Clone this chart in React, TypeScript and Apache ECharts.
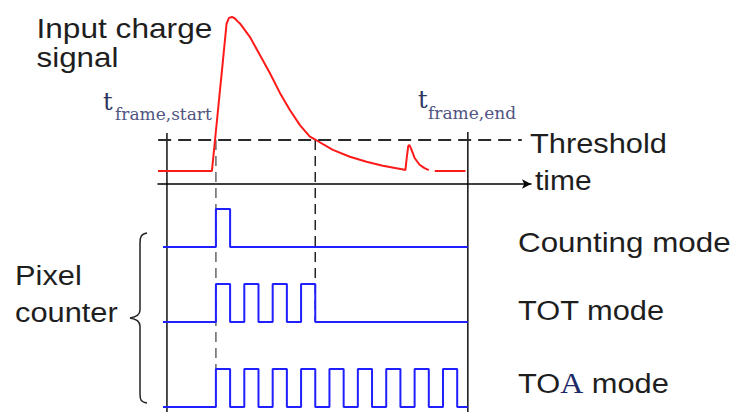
import React, { useEffect, useRef } from "react";
import * as echarts from "echarts";

// ---- time axis (units = half clock period), signal levels ----
const X_MIN = -4.08;
const X_MAX = 22.2;
const FRAME_START = -3.45;
const FRAME_END = 17.75;
const ROW_START = -3.73;
const THRESHOLD = 1;
const THRESHOLD_END = 21.55;
const TOT_END = 7;

// input charge signal: [time, amplitude] (threshold = 1)
const SIGNAL: [number, number][] = [
  [-4.08, 0], [-0.28, 0], [0.1, 1.75], [0.45, 3.35], [0.75, 4.75], [0.92, 4.94],
  [1.13, 4.97], [1.34, 4.92], [1.55, 4.82], [1.69, 4.76], [2.39, 4.33], [3.1, 3.74],
  [3.8, 3.16], [4.51, 2.52], [5.21, 1.97], [5.92, 1.48], [6.62, 1.11], [7.04, 1.0],
  [8.24, 0.68], [9.44, 0.46], [10.61, 0.3], [11.76, 0.17], [13.2, 0.05], [13.35, 0.03],
  [13.45, 0.45], [13.55, 0.8], [13.63, 0.84], [13.75, 0.72], [14.0, 0.42], [14.35, 0.2],
  [14.7, 0.09], [15.0, 0.03],
];
const SIGNAL_TAIL: [number, number][] = [[15.42, 0], [17.58, 0]];

// digital outputs: times of level changes (start low)
const COUNTING_EDGES = [0, 1];
const TOT_EDGES = [0, 1, 2, 3, 4, 5, 6, 7];
const TOA_EDGES = [0, 1, 2, 3, 4, 5, 6, 7, 8, 9, 10, 11, 12, 13, 14, 15, 16, 17];

const ROW_LABELS = ["Counting mode", "TOT mode"];

function steps(edges: number[]): [number, number][] {
  const pts: [number, number][] = [[ROW_START, 0]];
  let level = 0;
  for (const e of edges) {
    pts.push([e, level]);
    level = 1 - level;
    pts.push([e, level]);
  }
  pts.push([FRAME_END, level]);
  return pts;
}

const BRACE_D =
  "M147,233 C141,234 140,237 140,243 L140,310 C140,315 136,317 130,318 C136,319 140,321 140,326 L140,394 C140,400 141,402 147,403";
echarts.graphic.registerShape("brace", echarts.graphic.extendPath(BRACE_D, {}) as any);

const SANS = "Liberation Sans, Arial, sans-serif";
const SERIF = "DejaVu Serif, serif";
const INK = "#1e1e1e";
const RED = "#ff1a1a";
const BLUE = "#1f1fff";

export default function App() {
  const ref = useRef<HTMLDivElement>(null);
  useEffect(() => {
    if (!ref.current) return;
    const chart = echarts.init(ref.current, undefined, { renderer: "svg" });
    const gridTops = [
      { top: 12, height: 172 },
      { top: 209, height: 38 },
      { top: 284, height: 38 },
      { top: 369, height: 38 },
    ];
    const grid = gridTops.map((g) => ({ left: 158, width: 373, top: g.top, height: g.height }));
    const xAxis = grid.map((_, i) => ({
      type: "value",
      gridIndex: i,
      min: X_MIN,
      max: X_MAX,
      show: i === 0,
      axisLine: {
        show: i === 0,
        onZero: false,
        symbol: ["none", "arrow"],
        symbolSize: [7, 9],
        lineStyle: { color: "#000", width: 1.5 },
      },
      axisTick: { show: false },
      axisLabel: { show: false },
      splitLine: { show: false },
    }));
    const yAxis = grid.map((_, i) => ({
      type: "value",
      gridIndex: i,
      min: i === 0 ? -0.42 : 0,
      max: i === 0 ? 5.13 : 1,
      show: false,
      splitLine: { show: false },
    }));
    const digital = (idx: number, edges: number[], name: string) => ({
      type: "line",
      name,
      xAxisIndex: idx,
      yAxisIndex: idx,
      data: steps(edges),
      showSymbol: false,
      clip: false,
      silent: true,
      lineStyle: { color: BLUE, width: 2 },
      z: 3,
    });
    chart.setOption({
      animation: false,
      grid,
      xAxis,
      yAxis,
      series: [
        {
          type: "line",
          name: "Input charge signal",
          xAxisIndex: 0,
          yAxisIndex: 0,
          data: SIGNAL,
          showSymbol: false,
          clip: false,
          silent: true,
          lineStyle: { color: RED, width: 2 },
          z: 3,
          markLine: {
            silent: true,
            symbol: ["none", "none"],
            label: { show: false },
            lineStyle: { color: "#2a2a2a", width: 2, type: [13, 7] },
            data: [[{ coord: [X_MIN + 0.01, THRESHOLD] }, { coord: [THRESHOLD_END, THRESHOLD] }]],
          },
        },
        {
          type: "line",
          name: "tail",
          xAxisIndex: 0,
          yAxisIndex: 0,
          data: SIGNAL_TAIL,
          showSymbol: false,
          clip: false,
          silent: true,
          lineStyle: { color: RED, width: 2 },
          z: 3,
        },
        digital(1, COUNTING_EDGES, ROW_LABELS[0]),
        digital(2, TOT_EDGES, ROW_LABELS[1]),
        digital(3, TOA_EDGES, "TOA mode"),
      ],
    });

    const p = (g: number, x: number, y: number) =>
      chart.convertToPixel({ gridIndex: g } as any, [x, y]) as unknown as number[];
    const thrY = p(0, 0, THRESHOLD)[1];
    const xStart = p(0, FRAME_START, 0)[0];
    const xEnd = p(0, FRAME_END, 0)[0];
    const x0 = p(0, 0, 0)[0];
    const xTot = p(0, TOT_END, 0)[0];
    const toaHigh = p(3, 0, 1)[1];
    const totLow = p(2, TOT_END, 0)[1];

    const text = (t: string, x: number, y: number, size = 28, sx = 1.1) => ({
      type: "text",
      x,
      y,
      scaleX: sx,
      silent: true,
      style: {
        text: t,
        x: 0,
        y: 0,
        fontFamily: SANS,
        fontSize: size,
        fill: INK,
        align: "left",
        verticalAlign: "middle",
      },
    });
    const serif = (t: string, x: number, y: number, size: number, color: string) => ({
      type: "text",
      x,
      y,
      silent: true,
      style: {
        text: t,
        x: 0,
        y: 0,
        fontFamily: SERIF,
        fontSize: size,
        fill: color,
        align: "left",
        verticalAlign: "middle",
      },
    });

    chart.setOption({
      graphic: [
        {
          type: "line",
          silent: true,
          shape: { x1: xStart, y1: thrY - 7, x2: xStart, y2: 412 },
          style: { stroke: "#111", lineWidth: 1.5 },
        },
        {
          type: "line",
          silent: true,
          shape: { x1: xEnd, y1: thrY - 8, x2: xEnd, y2: 412 },
          style: { stroke: "#111", lineWidth: 1.5 },
        },
        {
          type: "line",
          silent: true,
          shape: { x1: x0, y1: thrY, x2: x0, y2: toaHigh },
          style: { stroke: "#666", lineWidth: 1.5, lineDash: [10, 6] },
        },
        {
          type: "line",
          silent: true,
          shape: { x1: xTot, y1: thrY, x2: xTot, y2: totLow },
          style: { stroke: "#222", lineWidth: 1.5, lineDash: [10, 6] },
        },
        { type: "brace", x: 0, y: 0, silent: true, style: { stroke: "#222", fill: "none", lineWidth: 1.5 } },
        text("Input charge", 36.5, 28.3, 28, 1.13),
        text("signal", 36.5, 57.5, 28, 1.12),
        text("Threshold", 530, 143.3),
        text("time", 535, 180, 28, 1.07),
        text("Counting mode", 518, 241.7, 28, 1.12),
        text("TOT mode", 518, 310),
        {
          type: "text",
          x: 518,
          y: 383.3,
          scaleX: 1.1,
          silent: true,
          style: {
            text: "{a|TO}{b|A}{a| mode}",
            x: 0,
            y: 0,
            align: "left",
            verticalAlign: "middle",
            rich: {
              a: { fontFamily: SANS, fontSize: 28, fill: INK },
              b: { fontFamily: "Liberation Serif, serif", fontSize: 29, fill: "#1c2a66" },
            },
          },
        },
        text("Pixel", 15, 275),
        text("counter", 15, 311.7),
        serif("t", 103, 101.5, 24, "#2e3460"),
        serif("frame,start", 115, 114, 17, "#505582"),
        serif("t", 418, 100, 24, "#2e3460"),
        serif("frame,end", 428, 113.3, 17, "#505582"),
      ],
    });

    return () => chart.dispose();
  }, []);
  return <div ref={ref} style={{ position: "absolute", left: 0, top: 0, width: 734, height: 412 }} />;
}
